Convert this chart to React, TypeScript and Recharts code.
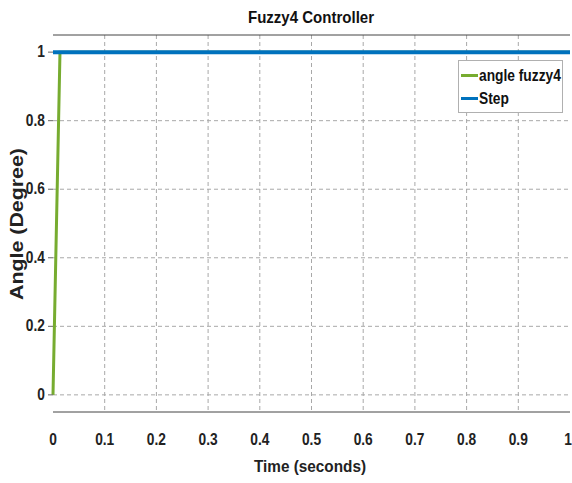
import React from "react";
import {
  LineChart,
  Line,
  XAxis,
  YAxis,
  CartesianGrid,
  ReferenceLine,
} from "recharts";

// Simulation time (s) and responses
const time = [0, 0.0135, 1];
const angleFuzzy4 = [0, 1, 1];
const stepInput = [1, 1, 1];

const xTicks = [0, 0.1, 0.2, 0.3, 0.4, 0.5, 0.6, 0.7, 0.8, 0.9, 1];
const yTicks = [0, 0.2, 0.4, 0.6, 0.8, 1];
const innerXTicks = xTicks.slice(1, -1);

const seriesNames = ["angle fuzzy4", "Step"];
const seriesColors = ["#77AC30", "#0072BD"];

const data = time.map((t, i) => ({
  t,
  fuzzy: angleFuzzy4[i],
  step: stepInput[i],
}));

const FONT = "'Liberation Sans', Arial, sans-serif";

const fmt = (v: number) => String(v);

// Condensed bold tick text
const TickText = (props: any) => {
  const { x, y, payload, textAnchor, orientation } = props;
  const dy = orientation === "bottom" ? 14 : 5;
  return (
    <text
      x={x}
      y={y + dy}
      textAnchor={textAnchor}
      fill="#222"
      fontFamily={FONT}
      fontWeight={700}
      fontSize={16}
      transform={`translate(${x} ${y + dy}) scale(0.86 1) translate(${-x} ${-(y + dy)})`}
    >
      {fmt(payload.value)}
    </text>
  );
};

function LegendBox() {
  return (
    <div
      style={{
        position: "absolute",
        left: 458,
        top: 60,
        border: "1px solid #b0b0b0",
        background: "#fff",
        width: 105,
        height: 53,
        padding: "3px 0 0 2px",
        fontFamily: FONT,
        fontWeight: 700,
        fontSize: 16,
        color: "#111",
        boxSizing: "border-box",
      }}
    >
      {seriesNames.map((n, i) => (
        <div key={n} style={{ display: "flex", alignItems: "center", height: 23, whiteSpace: "nowrap" }}>
          <span
            style={{
              display: "inline-block",
              width: 17,
              height: 3,
              background: seriesColors[i],
              marginRight: 1,
              flex: "none",
            }}
          />
          <span style={{ display: "inline-block", transform: "scaleX(0.86)", transformOrigin: "left center" }}>
            {n}
          </span>
        </div>
      ))}
    </div>
  );
}

export default function App() {
  return (
    <div style={{ position: "absolute", left: 0, top: 0, width: 572, height: 483, background: "#fff" }}>
      <LineChart
        width={572}
        height={483}
        data={data}
        margin={{ top: 35, right: 2, bottom: 0, left: 0 }}
      >
        <CartesianGrid
          stroke="#a8a8a8"
          strokeDasharray="4 3"
          verticalValues={innerXTicks}
          horizontalValues={yTicks}
        />
        <XAxis
          dataKey="t"
          type="number"
          domain={[0, 1]}
          ticks={xTicks}
          height={71}
          axisLine={{ stroke: "#444" }}
          tickLine={false}
          tickMargin={13}
          tick={<TickText />}
        />
        <YAxis
          type="number"
          domain={[-0.05, 1.05]}
          ticks={yTicks}
          width={53}
          axisLine={false}
          tickLine={{ stroke: "#666" }}
          tickSize={5}
          tickMargin={3}
          tick={<TickText />}
        />
        <ReferenceLine y={1.05} stroke="#444" strokeWidth={1} />
        <Line
          dataKey="fuzzy"
          name={seriesNames[0]}
          stroke={seriesColors[0]}
          strokeWidth={3}
          dot={false}
          type="linear"
          isAnimationActive={false}
        />
        <Line
          dataKey="step"
          name={seriesNames[1]}
          stroke={seriesColors[1]}
          strokeWidth={4}
          dot={false}
          type="linear"
          isAnimationActive={false}
        />
        <text
          x={311}
          y={23}
          textAnchor="middle"
          fill="#111"
          fontFamily={FONT}
          fontWeight={700}
          fontSize={17}
          textLength={126}
          lengthAdjust="spacingAndGlyphs"
        >
          Fuzzy4 Controller
        </text>
        <text
          x={310}
          y={472}
          textAnchor="middle"
          fill="#222"
          fontFamily={FONT}
          fontWeight={700}
          fontSize={17}
          textLength={112}
          lengthAdjust="spacingAndGlyphs"
        >
          Time (seconds)
        </text>
        <text
          x={23}
          y={224}
          transform="rotate(-90 23 224)"
          textAnchor="middle"
          fill="#222"
          fontFamily={FONT}
          fontWeight={700}
          fontSize={18}
          textLength={152}
          lengthAdjust="spacingAndGlyphs"
        >
          Angle (Degree)
        </text>
      </LineChart>
      <LegendBox />
    </div>
  );
}
